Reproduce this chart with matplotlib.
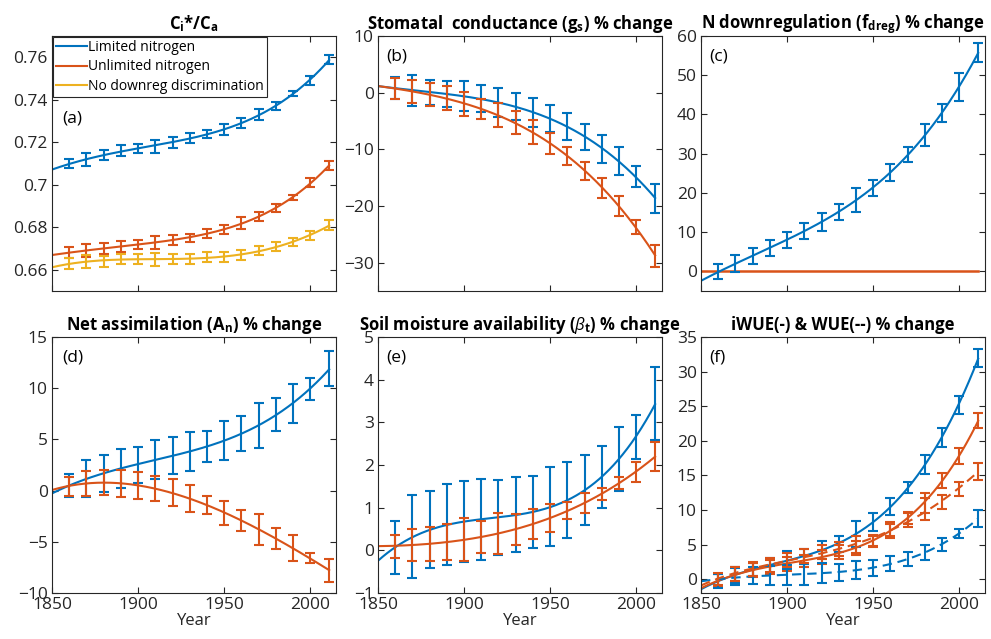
import numpy as np
import matplotlib
matplotlib.use("Agg")
import matplotlib.pyplot as plt

plt.rcParams['font.family'] = ['Open Sans', 'DejaVu Sans']
plt.rcParams['mathtext.fontset'] = 'custom'
plt.rcParams['mathtext.rm'] = 'Open Sans'
plt.rcParams['mathtext.it'] = 'Open Sans:italic'
plt.rcParams['mathtext.bf'] = 'Open Sans:bold'

BLUE = '#0072BD'
RED = '#D95319'
YELLOW = '#EDB120'

# sample years (decadal means, last one is the final year of the run)
years = [1860, 1870, 1880, 1890, 1900, 1910, 1920, 1930, 1940, 1950,
         1960, 1970, 1980, 1990, 2000, 2011]
start_year = 1850

# (a) Ci*/Ca
ci_lim = [0.710, 0.712, 0.714, 0.716, 0.717, 0.718, 0.720, 0.722, 0.724, 0.726,
          0.729, 0.733, 0.737, 0.743, 0.749, 0.759]
ci_lim_err = [0.002, 0.003, 0.0025, 0.0025, 0.0022, 0.003, 0.0025, 0.0025, 0.002, 0.0025,
              0.0025, 0.0025, 0.002, 0.0012, 0.002, 0.002]
ci_unl = [0.668, 0.669, 0.670, 0.671, 0.672, 0.673, 0.674, 0.675, 0.677, 0.679,
          0.682, 0.685, 0.689, 0.694, 0.701, 0.709]
ci_unl_err = [0.0025, 0.003, 0.0025, 0.0025, 0.0022, 0.003, 0.0025, 0.002, 0.0022, 0.0022,
              0.003, 0.0022, 0.002, 0.0012, 0.002, 0.002]
ci_nod = [0.663, 0.664, 0.664, 0.665, 0.665, 0.665, 0.665, 0.665, 0.666, 0.666,
          0.667, 0.669, 0.671, 0.673, 0.676, 0.681]
ci_nod_err = [0.0025, 0.003, 0.0025, 0.0025, 0.0025, 0.003, 0.0025, 0.0025, 0.0022, 0.0025,
              0.0025, 0.0022, 0.0022, 0.0018, 0.0022, 0.0025]
ci_start = [0.707, 0.667, 0.661]

# (b) stomatal conductance
gs_lim = [0.8, 0.4, 0.1, -0.3, -0.6, -1.0, -1.7, -2.5, -3.5, -4.6,
          -6.0, -7.8, -9.9, -12.0, -14.8, -18.7]
gs_lim_err = [2.0, 2.7, 2.2, 2.3, 2.6, 2.4, 2.6, 2.4, 2.6, 2.4,
              2.4, 2.3, 2.5, 2.5, 1.8, 2.5]
gs_unl = [0.7, 0.2, -0.3, -1.0, -2.0, -2.9, -4.0, -5.3, -7.0, -9.0,
          -11.1, -13.8, -16.8, -20.0, -23.7, -28.8]
gs_unl_err = [1.9, 2.1, 2.0, 2.1, 2.1, 1.8, 2.1, 2.0, 2.1, 1.8,
              1.6, 1.6, 1.8, 1.8, 1.3, 1.9]
gs_start = [1.2, 1.2]

# (c) N downregulation
fd_lim = [0.0, 2.0, 4.0, 6.0, 8.0, 10.3, 12.6, 15.2, 18.2, 21.3,
          25.3, 29.8, 34.7, 40.4, 47.0, 55.8]
fd_lim_err = [2.0, 2.2, 2.0, 2.0, 2.0, 2.0, 2.3, 2.0, 3.0, 2.0,
              2.2, 1.8, 2.8, 2.3, 3.5, 2.3]
fd_start = -2.5
fd_unl = 0.0

# (d) net assimilation
an_lim = [0.5, 1.2, 1.7, 2.2, 2.5, 3.0, 3.4, 3.8, 4.3, 4.9,
          5.6, 6.4, 7.4, 8.5, 9.9, 11.9]
an_lim_err = [1.1, 1.8, 1.8, 1.9, 1.8, 1.9, 1.8, 1.9, 1.5, 1.9,
              1.7, 2.2, 1.6, 1.9, 1.1, 1.7]
an_unl = [0.4, 0.7, 0.8, 0.7, 0.5, 0.2, -0.2, -0.8, -1.4, -2.2,
          -2.9, -3.8, -4.7, -5.6, -6.6, -7.8]
an_unl_err = [0.9, 1.2, 1.2, 1.3, 1.3, 1.2, 1.3, 1.3, 0.9, 1.2,
              1.0, 1.5, 1.0, 1.3, 0.5, 1.1]
an_start = [-0.3, 0.1]

# (e) soil moisture availability
bt_lim = [0.07, 0.32, 0.48, 0.60, 0.67, 0.72, 0.76, 0.83, 0.90, 1.02,
          1.18, 1.42, 1.72, 2.14, 2.65, 3.44]
bt_lim_err = [0.62, 0.97, 0.90, 0.95, 0.95, 0.95, 0.88, 0.88, 0.85, 0.93,
              0.90, 0.82, 0.72, 0.76, 0.52, 0.85]
bt_unl = [0.10, 0.13, 0.15, 0.20, 0.25, 0.31, 0.39, 0.49, 0.62, 0.76,
          0.93, 1.11, 1.33, 1.57, 1.84, 2.20]
bt_unl_err = [0.27, 0.38, 0.39, 0.42, 0.51, 0.38, 0.48, 0.36, 0.36, 0.33,
              0.20, 0.24, 0.14, 0.14, 0.24, 0.33]
bt_start = [-0.25, 0.1]

# (f) iWUE (solid) and WUE (dashed)
iwue_lim = [-0.2, 0.6, 1.4, 2.0, 2.8, 3.3, 4.2, 5.1, 6.5, 8.2,
            10.5, 13.3, 16.6, 20.5, 25.2, 32.0]
iwue_lim_err = [1.0, 1.2, 1.0, 1.1, 1.3, 1.1, 1.3, 1.2, 1.9, 1.3,
                1.2, 0.8, 1.4, 1.4, 1.3, 1.3]
iwue_unl = [-0.1, 0.7, 1.3, 1.8, 2.2, 2.6, 3.2, 3.9, 4.5, 5.6,
            7.2, 8.8, 11.0, 14.3, 17.8, 22.9]
iwue_unl_err = [0.9, 1.0, 1.0, 1.0, 1.0, 0.9, 1.0, 1.0, 1.0, 0.8,
                1.0, 0.9, 1.4, 1.1, 1.1, 1.1]
wue_lim = [-0.3, 0.4, 0.5, 0.5, 0.6, 0.7, 0.9, 1.0, 1.3, 1.6,
           2.3, 2.9, 3.9, 5.0, 6.6, 8.8]
wue_lim_err = [1.0, 1.2, 1.2, 1.4, 1.4, 1.5, 1.4, 1.2, 1.3, 1.1,
               1.1, 1.0, 1.1, 1.0, 0.7, 1.2]
wue_unl = [0.0, 0.8, 1.5, 2.1, 2.8, 3.3, 3.9, 4.4, 5.0, 5.5,
           6.9, 8.6, 10.1, 11.2, 13.0, 15.6]
wue_unl_err = [0.9, 1.0, 1.0, 1.0, 1.0, 1.0, 1.0, 1.0, 1.2, 0.8,
               1.0, 1.0, 1.6, 1.0, 1.0, 1.2]
wue_start = [-1.5, -1.4, -0.2, -0.8]

xticks = [1850, 1900, 1950, 2000]

TICK_SIZE = 12.5
LABEL_SIZE = 12.5


def smooth_curve(start_val, vals, deg=4):
    """Least-squares polynomial through the start value and the decadal means."""
    x = np.array([start_year] + years, dtype=float)
    y = np.array([start_val] + list(vals), dtype=float)
    t = (x - 1930.0) / 100.0
    coef = np.polyfit(t, y, deg)
    xf = np.linspace(start_year, years[-1], 300)
    return xf, np.polyval(coef, (xf - 1930.0) / 100.0)


def draw_series(ax, start_val, vals, errs, color, ls='-', label=None):
    xf, yf = smooth_curve(start_val, vals)
    line, = ax.plot(xf, yf, color=color, lw=1.5, label=label)
    if ls == '--':
        line.set_dashes((4.5, 2.8))
    ax.errorbar(years, vals, yerr=errs, fmt='none', ecolor=color,
                elinewidth=1.5, capsize=3.5, capthick=1.5)


def style_axes(ax, ylim, yticks, ylabels, bottom_row):
    ax.set_xlim(1850, 2015)
    ax.set_ylim(*ylim)
    ax.set_xticks(xticks)
    ax.set_yticks(yticks)
    ax.set_yticklabels(ylabels)
    if bottom_row:
        ax.set_xticklabels([str(v) for v in xticks])
        ax.set_xlabel('Year', fontsize=12, labelpad=0, color='#262626')
    else:
        ax.set_xticklabels([])
    ax.tick_params(direction='in', top=True, right=True, length=4,
                   labelsize=TICK_SIZE, colors='#262626', pad=3)
    for sp in ax.spines.values():
        sp.set_color('#262626')
        sp.set_linewidth(0.8)


fig = plt.figure(figsize=(9.91, 6.39), dpi=100)
lefts = [0.0525, 0.3814, 0.7074]
width = 0.2866
top_y, top_h = 0.5446, 0.399
bot_y, bot_h = 0.072, 0.4006

ax_a = fig.add_axes([lefts[0], top_y, width, top_h])
ax_b = fig.add_axes([lefts[1], top_y, width, top_h])
ax_c = fig.add_axes([lefts[2], top_y, width, top_h])
ax_d = fig.add_axes([lefts[0], bot_y, width, bot_h])
ax_e = fig.add_axes([lefts[1], bot_y, width, bot_h])
ax_f = fig.add_axes([lefts[2], bot_y, width, bot_h])

title_kw = dict(fontsize=12, fontweight='bold', pad=5)

# (a)
draw_series(ax_a, ci_start[0], ci_lim, ci_lim_err, BLUE, label='Limited nitrogen')
draw_series(ax_a, ci_start[1], ci_unl, ci_unl_err, RED, label='Unlimited nitrogen')
draw_series(ax_a, ci_start[2], ci_nod, ci_nod_err, YELLOW, label='No downreg discrimination')
style_axes(ax_a, (0.65, 0.77), [0.66, 0.68, 0.70, 0.72, 0.74, 0.76],
           ['0.66', '0.68', '0.7', '0.72', '0.74', '0.76'], False)
ax_a.set_title(r'C$_\mathbf{i}$*/C$_\mathbf{a}$', **title_kw)
leg = ax_a.legend(loc='upper left', bbox_to_anchor=(0.0, 1.0), fontsize=10,
                  handlelength=2.2, handletextpad=0.1, borderpad=0.25,
                  labelspacing=0.3, borderaxespad=0.05, fancybox=False,
                  framealpha=1, edgecolor='#262626')
leg.get_frame().set_linewidth(0.8)
ax_a.text(0.035, 0.66, '(a)', transform=ax_a.transAxes, fontsize=LABEL_SIZE)

# (b)
draw_series(ax_b, gs_start[0], gs_lim, gs_lim_err, BLUE)
draw_series(ax_b, gs_start[1], gs_unl, gs_unl_err, RED)
style_axes(ax_b, (-35, 10), [-30, -20, -10, 0, 10],
           ['\u221230', '\u221220', '\u221210', '0', '10'], False)
ax_b.set_title(r'Stomatal  conductance (g$_\mathbf{s}$) % change', **title_kw)
ax_b.text(0.03, 0.905, '(b)', transform=ax_b.transAxes, fontsize=LABEL_SIZE)

# (c)
ax_c.plot([start_year, years[-1]], [fd_unl, fd_unl], color=RED, lw=1.8)
draw_series(ax_c, fd_start, fd_lim, fd_lim_err, BLUE)
style_axes(ax_c, (-5, 60), [0, 10, 20, 30, 40, 50, 60],
           ['0', '10', '20', '30', '40', '50', '60'], False)
ax_c.set_title(r'N downregulation (f$_\mathbf{dreg}$) % change', **title_kw)
ax_c.text(0.03, 0.905, '(c)', transform=ax_c.transAxes, fontsize=LABEL_SIZE)

# (d)
draw_series(ax_d, an_start[0], an_lim, an_lim_err, BLUE)
draw_series(ax_d, an_start[1], an_unl, an_unl_err, RED)
style_axes(ax_d, (-10, 15), [-10, -5, 0, 5, 10, 15],
           ['\u221210', '\u22125', '0', '5', '10', '15'], True)
ax_d.set_title(r'Net assimilation (A$_\mathbf{n}$) % change', **title_kw)
ax_d.text(0.035, 0.905, '(d)', transform=ax_d.transAxes, fontsize=LABEL_SIZE)

# (e)
draw_series(ax_e, bt_start[0], bt_lim, bt_lim_err, BLUE)
draw_series(ax_e, bt_start[1], bt_unl, bt_unl_err, RED)
style_axes(ax_e, (-1, 5), [-1, 0, 1, 2, 3, 4, 5],
           ['\u22121', '0', '1', '2', '3', '4', '5'], True)
ax_e.set_title(r'Soil moisture availability ($\mathit{\beta}_\mathbf{t}$) % change', **title_kw)
ax_e.text(0.03, 0.905, '(e)', transform=ax_e.transAxes, fontsize=LABEL_SIZE)

# (f)
draw_series(ax_f, wue_start[0], iwue_lim, iwue_lim_err, BLUE)
draw_series(ax_f, wue_start[1], iwue_unl, iwue_unl_err, RED)
draw_series(ax_f, wue_start[2], wue_lim, wue_lim_err, BLUE, ls='--')
draw_series(ax_f, wue_start[3], wue_unl, wue_unl_err, RED, ls='--')
style_axes(ax_f, (-2, 35), [0, 5, 10, 15, 20, 25, 30, 35],
           ['0', '5', '10', '15', '20', '25', '30', '35'], True)
ax_f.set_title('iWUE(-) & WUE(--) % change', **title_kw)
ax_f.text(0.03, 0.905, '(f)', transform=ax_f.transAxes, fontsize=LABEL_SIZE)

fig.savefig('out.png', dpi=100)
